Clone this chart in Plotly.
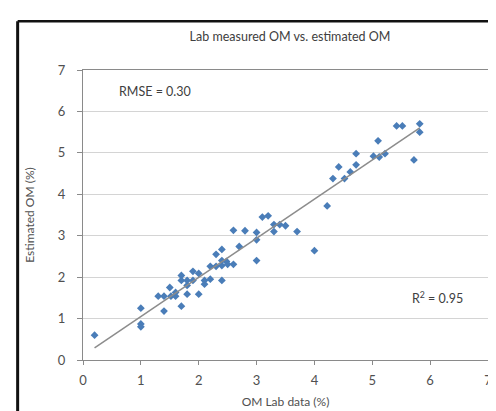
import numpy as np
import plotly.graph_objects as go

# Lab measured OM (%) and estimated OM (%)
lab_om = [0.2, 1.0, 1.0, 1.0, 1.4, 1.3, 1.4, 1.5, 1.52, 1.6, 1.6, 1.7, 1.7, 1.7,
          1.8, 1.8, 1.8, 1.9, 1.9, 2.0, 2.0, 2.1, 2.1, 2.2, 2.2, 2.3, 2.3,
          2.4, 2.4, 2.4, 2.4, 2.48, 2.5, 2.6, 2.6, 2.7, 2.8, 3.0, 3.0, 3.0,
          3.1, 3.2, 3.3, 3.4, 3.5, 3.3, 3.7, 4.0, 4.22, 4.32, 4.42, 4.52,
          4.62, 4.72, 4.72, 5.02, 5.12, 5.1, 5.22, 5.42, 5.52, 5.72, 5.82, 5.82]
est_om = [0.6, 1.25, 0.87, 0.8, 1.18, 1.54, 1.54, 1.75, 1.54, 1.63, 1.54, 2.04, 1.92, 1.3,
          1.8, 1.59, 1.92, 2.14, 1.92, 2.09, 1.59, 1.92, 1.83, 1.95, 2.26, 2.26, 2.55,
          2.67, 2.4, 2.28, 1.92, 2.38, 2.31, 2.31, 3.13, 2.74, 3.12, 3.08, 2.9, 2.4,
          3.45, 3.48, 3.27, 3.27, 3.24, 3.1, 3.1, 2.64, 3.72, 4.38, 4.66, 4.38,
          4.54, 4.71, 4.98, 4.92, 4.9, 5.29, 4.98, 5.65, 5.65, 4.83, 5.7, 5.5]

tick_vals = [0, 1, 2, 3, 4, 5, 6, 7]
title_text = "Lab measured OM vs. estimated OM"
rmse_text = "RMSE = 0.30"
r2_text = "R<sup>2</sup> = 0.95"

slope, intercept = np.polyfit(lab_om, est_om, 1)
line_x = [min(lab_om), max(lab_om)]
line_y = [slope * v + intercept for v in line_x]

font_family = "Lato, 'Open Sans', sans-serif"
text_col = "#505050"
plot_w = 496 - 75 - 12

fig = go.Figure()
fig.add_trace(go.Scatter(x=lab_om, y=est_om, mode="markers",
                         marker=dict(symbol="diamond", size=6, color="#4a7db8"),
                         showlegend=False, hoverinfo="x+y"))
fig.add_trace(go.Scatter(x=line_x, y=line_y, mode="lines",
                         line=dict(color="#8c8c8c", width=1.5),
                         showlegend=False, hoverinfo="skip"))

fig.update_layout(
    width=496, height=411,
    margin=dict(l=75, r=12, t=62, b=58),
    paper_bgcolor="white", plot_bgcolor="white",
    font=dict(family=font_family, color=text_col, size=13),
    title=dict(text=title_text, x=(282) / 496, xanchor="center",
               y=1 - 29 / 411, yanchor="middle",
               font=dict(family=font_family, size=12.5, color="#404040")),
    xaxis=dict(range=[0, 7], tickvals=tick_vals, showgrid=False, zeroline=False,
               showline=True, linecolor="#8a8a8a", linewidth=1, mirror=True,
               ticks="outside", ticklen=4, tickcolor="#8a8a8a",
               ticklabelstandoff=4, ticklabeloverflow="allow",
               tickfont=dict(family=font_family, size=13, color=text_col),
               title=dict(text="OM Lab data (%)",
                          font=dict(family=font_family, size=12, color=text_col),
                          standoff=11)),
    yaxis=dict(range=[0, 7], tickvals=tick_vals, showgrid=True, gridcolor="#d4d4d4",
               gridwidth=1, zeroline=False,
               showline=True, linecolor="#8a8a8a", linewidth=1, mirror=True,
               ticks="outside", ticklen=5, tickcolor="#8a8a8a",
               ticklabelstandoff=9,
               tickfont=dict(family=font_family, size=13, color=text_col),
               title=dict(text="Estimated OM (%)",
                          font=dict(family=font_family, size=12, color=text_col),
                          standoff=20)),
    annotations=[
        dict(x=0.58, y=6.47, xref="x", yref="y", text=rmse_text, showarrow=False,
             xanchor="left", yanchor="middle",
             font=dict(family=font_family, size=12.5, color="#404040")),
        dict(x=6.13, y=1.51, xref="x", yref="y", text=r2_text, showarrow=False,
             xanchor="center", yanchor="middle",
             font=dict(family=font_family, size=12.5, color="#404040")),
    ],
    shapes=[
        dict(type="line", xref="paper", yref="paper",
             x0=(9 - 75) / plot_w, x1=(9 - 75) / plot_w, y0=-0.3, y1=(353 - 13) / 291,
             line=dict(color="#111111", width=3)),
        dict(type="line", xref="paper", yref="paper",
             x0=(9 - 75) / plot_w, x1=1.1, y0=(353 - 13) / 291, y1=(353 - 13) / 291,
             line=dict(color="#111111", width=2.5)),
    ],
)

fig.write_html("out.html")
